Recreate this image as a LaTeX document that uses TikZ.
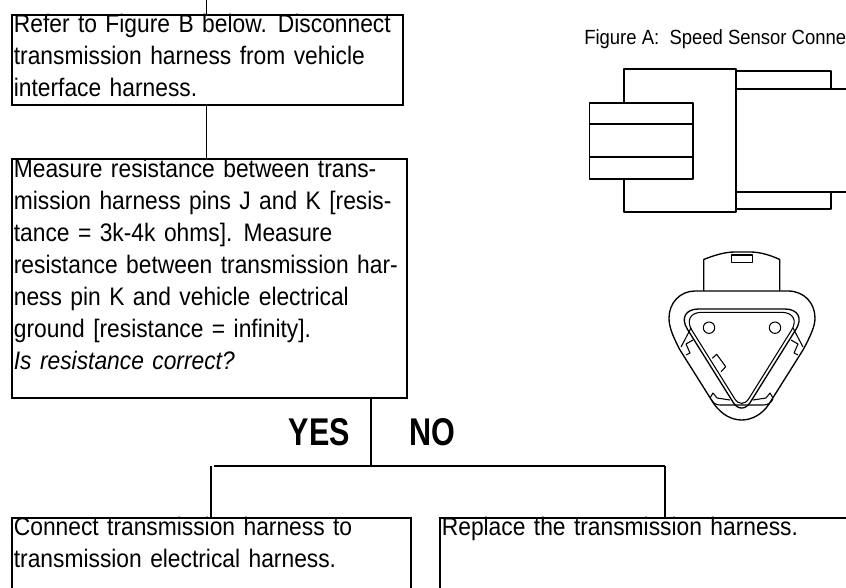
\documentclass[tikz,border=0pt]{standalone}
\usepackage{fontspec}
\setmainfont{Liberation Sans}[FakeStretch=0.9]
\newfontfamily\answerfont{Liberation Sans}[FakeStretch=0.79]
\usepackage{tikz}
\usetikzlibrary{positioning}

\begin{document}
\begin{tikzpicture}[x=0.75pt,y=-0.75pt,
  stepbox/.style={draw, line width=1.3pt, anchor=north west, align=left, inner xsep=1.5pt, inner ysep=0pt,
    font=\fontsize{19}{24}\selectfont},
  answer/.style={font=\fontsize{29}{32}\answerfont\bfseries},
  wire/.style={line width=1.3pt},
  part/.style={line width=1pt, line join=round},
  fine/.style={line width=0.8pt, line join=round}]
\useasboundingbox (0,0) rectangle (846,588);
\clip (0,0) rectangle (846,588);

% flow chart
\coordinate (start) at (206.5,0);
\node[stepbox, text width=290.25pt, text height=13.5pt, text depth=54pt] (refer) at (11,14)
  {Refer to Figure B below.\ \hspace{2pt}Disconnect\\ transmission harness from vehicle\\ interface harness.};
\node[stepbox, text width=293.25pt, text height=13.5pt, text depth=165.5pt, below=39.5pt of refer.south west, anchor=north west] (measure)
  {Measure resistance between trans-\\ mission harness pins J and K [resis-\\ tance = 3k-4k ohms].\ \hspace{2pt}Measure\\ resistance between transmission har-\\ ness pin K and vehicle electrical\\ ground [resistance = infinity].\\ \emph{Is resistance correct?}};
\node[stepbox, text width=296.25pt, text height=13.5pt, text depth=70pt] (connect) at (11,517)
  {Connect transmission harness to\\ transmission electrical harness.};
\node[stepbox, text width=320pt, text height=13.5pt, text depth=70pt] (replace) at (439,517)
  {Replace the transmission harness.};
\node[answer, anchor=base] (yes) at (319.5,445) {YES};
\node[answer, anchor=base] (no) at (432,445) {NO};
\coordinate (split) at (371,466);
\coordinate (leftend) at (214,466);
\coordinate (leftdrop) at (211,466);
\coordinate (rightend) at (665,466);
\draw[wire] (start) -- (start |- refer.north);
\draw[wire] (start |- refer.south) -- (start |- measure.north);
\draw[wire] (split |- measure.south) -- (split);
\draw[wire] (leftend) -- (rightend);
\draw[wire] (leftdrop) -- (leftdrop |- connect.north);
\draw[wire] (rightend) -- (rightend |- replace.north);

% figure A
\node[anchor=base west, inner sep=0pt, font=\fontsize{15.4}{18}\selectfont] (figa) at (584,45) {Figure A:\ \ Speed Sensor Conne};
\draw[part] (624,103) -- (624,69) -- (736,69) -- (736,212) -- (624,212) -- (624,179);
\draw[part] (589.5,103) rectangle (693,179);
\draw[part] (589.5,124) -- (693,124) (589.5,157) -- (693,157);
\draw[part] (736,71) -- (831,71) -- (831,89);
\draw[part] (736,89) -- (846,89) (736,192) -- (846,192);
\draw[part] (736,209) -- (831,209) -- (831,192);

% connector end view
\draw[part] (703.7,291) -- (703.7,259.5) .. controls (715,255) and (725,252) .. (735,252)
  -- (750,252) .. controls (760,252) and (770,255) .. (779.7,259.5) -- (779.7,291);
\draw[fine] (731.3,255) rectangle (752.3,262.7);
\draw[part] (695,291) -- (788,291) .. controls (804,291) and (815,303) .. (815,318)
  .. controls (815,326) and (811,335) .. (803,350) -- (769,404)
  .. controls (762,415) and (751,420) .. (741.7,420) .. controls (732,420) and (722,415) .. (714,404)
  -- (680,350) .. controls (672,335) and (669,326) .. (669,318) .. controls (669,303) and (680,291) .. (695,291) -- cycle;
\draw[part, rounded corners=18pt] (741.7,309) -- (808.7,309) [rounded corners=12pt] -- (741.7,416) [rounded corners=18pt] -- (674.7,309) -- cycle;
\draw[fine, rounded corners=16pt] (741.7,312.3) -- (802.7,312.3) [rounded corners=10pt] -- (741.7,410) [rounded corners=16pt] -- (680.7,312.3) -- cycle;
\draw[fine] (709,327.7) circle (5.7);
\draw[fine] (775,327.7) circle (5.7);
\draw[fine] (712.3,358.3) -- (716.7,354.3) -- (725.7,366.7) -- (721,371.7);
% side latches
\draw[fine] (681,347) -- (691,328) (693,340) -- (686,344) -- (690,353) -- (686,355);
\draw[fine] (803,347) -- (793,328) (791,340) -- (798,344) -- (794,353) -- (798,355);
\draw[fine] (710,398) -- (713,393) -- (717,398) -- (730,400);
\draw[fine] (773,398) -- (770,393) -- (766,398) -- (753,400);
\draw[fine] (711,399) .. controls (713,403) and (716,405) .. (720,405) -- (763,405) .. controls (768,405) and (771,403) .. (773,399);
\end{tikzpicture}
\end{document}
